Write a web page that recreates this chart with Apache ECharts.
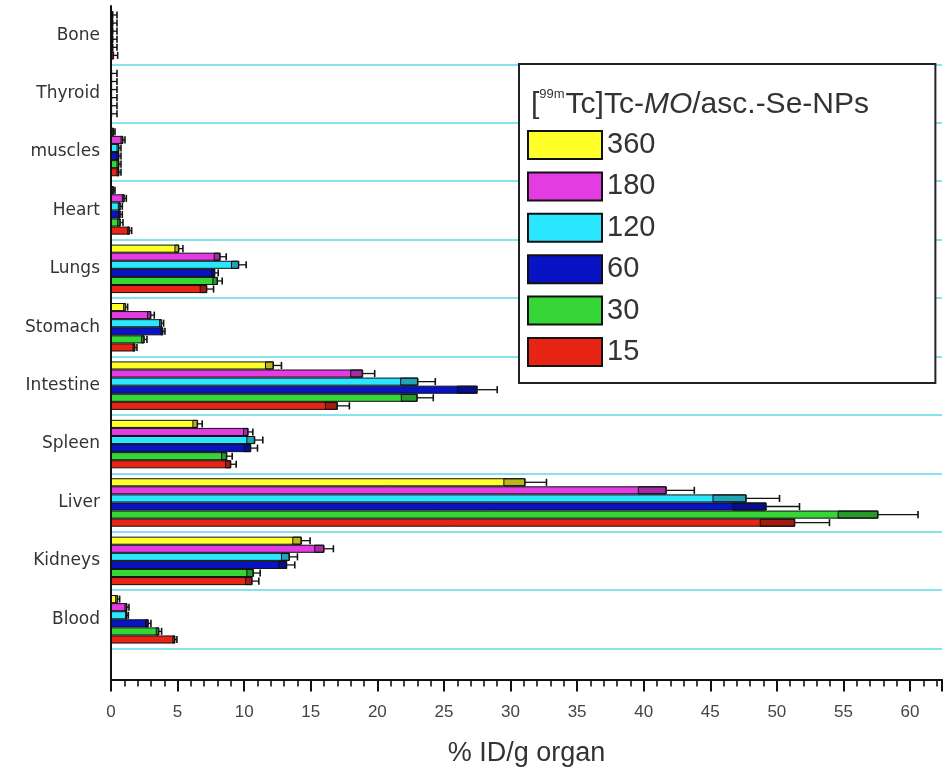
<!DOCTYPE html>
<html style="height: 100%">
<head>
    <meta charset="utf-8">
    <script type="text/javascript" src="https://cdn.jsdelivr.net/npm/echarts@6.0.0/dist/echarts.min.js"></script>
</head>
<body style="height: 100%; margin: 0; background-color: #fff;">
    <div id="main" style="width: 944px; height: 776px;"></div>
<script>
// organs, listed from bottom to top of the chart
var organs = ['Blood', 'Kidneys', 'Liver', 'Spleen', 'Intestine', 'Stomach', 'Lungs', 'Heart', 'muscles', 'Thyroid', 'Bone'];

// time points (min), top bar first
var times = ['360', '180', '120', '60', '30', '15'];

// mean % ID/g organ for each time point
var t360 = [0.5, 14.3, 31.1, 6.5, 12.2, 1.1, 5.1, 0.2, 0.2, 0.05, 0.15];
var t180 = [1.2, 16.0, 41.7, 10.3, 18.9, 3.0, 8.2, 1.0, 0.9, 0.05, 0.15];
var t120 = [1.2, 13.4, 47.7, 10.8, 23.05, 3.8, 9.6, 0.7, 0.6, 0.05, 0.15];
var t60  = [2.8, 13.2, 49.2, 10.5, 27.5, 3.9, 7.8, 0.7, 0.6, 0.05, 0.15];
var t30  = [3.6, 10.7, 57.6, 8.7, 23.0, 2.5, 8.0, 0.7, 0.6, 0.05, 0.15];
var t15  = [4.8, 10.6, 51.35, 9.0, 17.0, 1.8, 7.2, 1.4, 0.6, 0.05, 0.2];

// standard deviations
var e360 = [0.15, 0.65, 1.6, 0.35, 0.6, 0.15, 0.3, 0.1, 0.1, 0.4, 0.3];
var e180 = [0.15, 0.7, 2.1, 0.35, 0.9, 0.25, 0.45, 0.15, 0.15, 0.4, 0.3];
var e120 = [0.1, 0.6, 2.5, 0.6, 1.3, 0.15, 0.55, 0.15, 0.15, 0.4, 0.3];
var e60  = [0.2, 0.6, 2.5, 0.5, 1.5, 0.15, 0.25, 0.15, 0.15, 0.4, 0.3];
var e30  = [0.2, 0.5, 3.0, 0.4, 1.2, 0.2, 0.35, 0.2, 0.15, 0.4, 0.3];
var e15  = [0.15, 0.5, 2.6, 0.4, 0.9, 0.15, 0.5, 0.15, 0.15, 0.4, 0.3];

var means = [t360, t180, t120, t60, t30, t15];
var errors = [e360, e180, e120, e60, e30, e15];
var colors = ['#ffff2a', '#e23ce2', '#2ae6ff', '#0814c4', '#36d636', '#e82414'];

var catGap = 0.17; // barCategoryGap as fraction

var chart = echarts.init(document.getElementById('main'));

var series = [];
times.forEach(function (t, k) {
    series.push({
        name: t,
        type: 'bar',
        xAxisIndex: 0,
        yAxisIndex: 0,
        data: means[k],
        barGap: '0%',
        barCategoryGap: (catGap * 100) + '%',
        itemStyle: { color: colors[k], borderColor: '#111', borderWidth: 1 },
        animation: false
    });
});

// error bars, placed on the same slot as the matching bar
times.forEach(function (t, k) {
    var pts = means[k].map(function (v, i) { return [v, i, errors[k][i]]; });
    series.push({
        type: 'custom',
        xAxisIndex: 0,
        yAxisIndex: 0,
        data: pts,
        encode: { x: 0, y: 1 },
        z: 5,
        silent: true,
        animation: false,
        renderItem: function (params, api) {
            var v = api.value(0), ci = api.value(1), e = api.value(2);
            var band = api.size([0, 1])[1];
            var inner = band * (1 - catGap);
            var thick = inner / times.length;
            var c = api.coord([v, ci]);
            var yc = c[1] - inner / 2 + (k + 0.5) * thick;
            var lo = api.coord([Math.max(0, v - e), ci])[0];
            var hi = api.coord([v + e, ci])[0];
            var h = thick - 1;
            return {
                type: 'group',
                children: [
                    { type: 'rect', shape: { x: lo, y: yc - h / 2, width: c[0] - lo, height: h },
                      style: { fill: 'rgba(0,0,0,0.28)', stroke: '#111', lineWidth: 1 } },
                    { type: 'line', shape: { x1: c[0], y1: yc, x2: hi, y2: yc },
                      style: { stroke: '#111', lineWidth: 1.3 } },
                    { type: 'line', shape: { x1: hi, y1: yc - h / 2, x2: hi, y2: yc + h / 2 },
                      style: { stroke: '#111', lineWidth: 1.6 } }
                ]
            };
        }
    });
});

var option = {
    animation: false,
    title: {
        text: '[{sup|99m}Tc]Tc-{it|MO}/asc.-Se-NPs',
        left: 526,
        top: 83,
        z: 10,
        textStyle: {
            fontFamily: 'Liberation Sans',
            fontSize: 30,
            fontWeight: 'normal',
            color: '#333',
            rich: {
                sup: { fontFamily: 'Liberation Sans', fontSize: 13, color: '#333', padding: [0, 1, 20, 0] },
                it: { fontFamily: 'Liberation Sans', fontSize: 30, fontStyle: 'italic', color: '#333' }
            }
        }
    },
    legend: {
        data: times,
        orient: 'vertical',
        left: 519,
        top: 64,
        padding: [66, 280, 16, 8],
        icon: 'rect',
        itemWidth: 74,
        itemHeight: 28,
        itemGap: 11.4,
        backgroundColor: '#fff',
        borderColor: '#222',
        borderWidth: 2,
        textStyle: { fontFamily: 'Liberation Sans', fontSize: 29, color: '#333' }
    },
    grid: [
        { left: 111, right: 2, top: 6, bottom: 127.5 },
        { left: 111, right: 2, top: 648.5, bottom: 96.5 }
    ],
    xAxis: [
        { gridIndex: 0, type: 'value', min: 0, max: 62.4, show: false },
        {
            gridIndex: 1, type: 'value', min: 0, max: 62.4, interval: 5,
            position: 'bottom',
            name: '% ID/g organ',
            nameLocation: 'middle',
            nameGap: 61,
            nameTextStyle: { fontFamily: 'Liberation Sans', fontSize: 27, color: '#333' },
            axisLine: { onZero: false, lineStyle: { color: '#111', width: 2 } },
            axisTick: { length: 12, lineStyle: { color: '#111', width: 2 } },
            minorTick: { show: true, splitNumber: 5, length: 7, lineStyle: { color: '#111', width: 1.6 } },
            axisLabel: { fontFamily: 'Liberation Sans', fontSize: 17, color: '#444', margin: 24, showMaxLabel: false },
            splitLine: { show: false }
        }
    ],
    yAxis: [
        {
            gridIndex: 0, type: 'category', data: organs,
            axisLine: { lineStyle: { color: '#111', width: 2 } },
            axisTick: { length: 6, lineStyle: { color: '#111', width: 1.5 } },
            axisLabel: { fontFamily: 'DejaVu Sans', fontSize: 17, color: '#333', margin: 11 },
            splitLine: { show: true, showMaxLine: false, lineStyle: { color: '#86e3ec', width: 2 } }
        },
        {
            gridIndex: 0, type: 'category', data: organs, position: 'left',
            axisLine: { show: false },
            axisTick: { inside: true, length: 8, lineStyle: { color: '#111', width: 1.5 } },
            axisLabel: { show: false },
            splitLine: { show: false }
        },
        {
            gridIndex: 1, type: 'value', min: 0, max: 1,
            axisLine: { show: true, onZero: false, lineStyle: { color: '#111', width: 2 } },
            axisTick: { show: false },
            axisLabel: { show: false },
            splitLine: { show: false }
        }
    ],
    series: series
};

chart.setOption(option);
</script>
</body>
</html>
